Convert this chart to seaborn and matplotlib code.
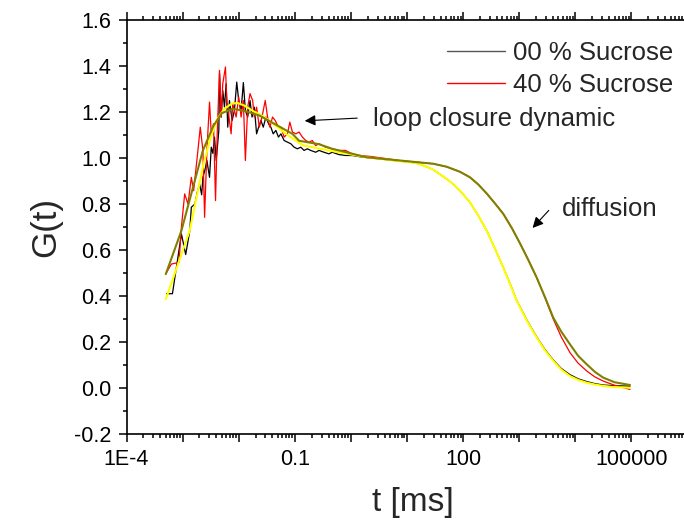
import numpy as np
import pandas as pd
import matplotlib
matplotlib.use("Agg")
import matplotlib.pyplot as plt
import seaborn as sns
from matplotlib.ticker import LogLocator, FuncFormatter, MultipleLocator, NullFormatter, FormatStrFormatter
from matplotlib.lines import Line2D

# ---------------- data (log10 of t in ms, G(t)) ----------------
logt_00_data = [-3.287, -3.181, -3.021, -2.945, -2.874, -2.844, -2.78, -2.74, -2.697, -2.66, -2.638, -2.60,
                -2.567, -2.520, -2.489, -2.46, -2.431, -2.401, -2.354, -2.342, -2.312, -2.284, -2.254,
                -2.224, -2.195, -2.165, -2.117, -2.076, -2.035, -2.000, -1.957, -1.917, -1.881, -1.840,
                -1.798, -1.762, -1.722, -1.681, -1.645, -1.603, -1.562, -1.515, -1.468, -1.426, -1.385,
                -1.338, -1.291, -1.248, -1.190, -1.131, -1.071, -1.012, -0.953, -0.894, -0.835, -0.776,
                -0.717, -0.628, -0.569, -0.480, -0.392, -0.333, -0.215, -0.097, 0.022, 0.199, 0.340,
                0.875, 1.05, 1.173, 1.32, 1.469, 1.707, 1.83, 1.945, 2.123, 2.27, 2.421, 2.57, 2.717,
                2.84, 2.955, 3.13, 3.312, 3.46, 3.607, 3.75, 3.905, 4.05, 4.204, 4.35, 4.499, 4.7, 4.975]
g_00_data = [0.41, 0.41, 0.67, 0.58, 0.68, 0.786, 0.80, 0.85, 0.887, 0.84, 0.916, 0.95,
             0.989, 0.916, 1.047, 1.02, 1.091, 0.989, 1.120, 1.367, 1.178, 1.294, 1.221,
             1.323, 1.134, 1.250, 1.163, 1.207, 1.330, 1.250, 1.207, 1.328, 1.207, 1.178,
             1.250, 1.178, 1.221, 1.105, 1.134, 1.163, 1.134, 1.178, 1.149, 1.134, 1.105,
             1.120, 1.091, 1.105, 1.076, 1.069, 1.062, 1.047, 1.040, 1.047, 1.033, 1.040,
             1.033, 1.025, 1.033, 1.025, 1.018, 1.025, 1.015, 1.011, 1.011, 1.004, 1.001,
             0.986, 0.982, 0.977, 0.965, 0.949, 0.909, 0.885, 0.858, 0.807, 0.750, 0.684, 0.605, 0.524,
             0.452, 0.381, 0.298, 0.222, 0.167, 0.122, 0.085, 0.058, 0.040, 0.028, 0.019, 0.013, 0.010, 0.008]

logt_40_data = [-3.287, -3.199, -3.064, -3.021, -2.963, -2.904, -2.844, -2.803, -2.727, -2.685, -2.638,
                -2.608, -2.567, -2.520, -2.489, -2.449, -2.413, -2.383, -2.342, -2.312, -2.284, -2.236,
                -2.213, -2.165, -2.135, -2.106, -2.046, -2.000, -1.957, -1.917, -1.881, -1.840, -1.798,
                -1.751, -1.722, -1.681, -1.633, -1.585, -1.527, -1.486, -1.444, -1.397, -1.349, -1.291,
                -1.248, -1.190, -1.131, -1.089, -1.042, -0.982, -0.924, -0.865, -0.805, -0.746, -0.687,
                -0.628, -0.569, -0.451, -0.333, -0.215, -0.097, 0.022, 0.140, 0.340,
                0.875, 1.469, 1.707, 1.945, 2.123, 2.27, 2.42, 2.57, 2.717, 2.87, 3.014, 3.16, 3.312,
                3.46, 3.607, 3.75, 3.905, 4.05, 4.204, 4.35, 4.499, 4.7, 4.975]
g_40_data = [0.502, 0.539, 0.546, 0.70, 0.844, 0.800, 0.916, 0.858, 1.033, 1.134, 1.033,
             0.742, 1.033, 1.243, 1.105, 1.149, 0.815, 1.105, 1.381, 1.178, 1.323, 1.396,
             1.250, 1.163, 1.105, 1.236, 1.178, 1.265, 1.178, 1.250, 0.989, 1.221, 1.280,
             1.250, 1.178, 1.221, 1.134, 1.178, 1.250, 1.178, 1.134, 1.178, 1.163, 1.134,
             1.134, 1.091, 1.105, 1.156, 1.113, 1.105, 1.113, 1.091, 1.076, 1.069, 1.076,
             1.054, 1.062, 1.047, 1.040, 1.033, 1.033, 1.018, 1.011, 1.007,
             0.989, 0.975, 0.962, 0.940, 0.916, 0.885, 0.846, 0.802, 0.757, 0.695, 0.629, 0.558, 0.480,
             0.392, 0.300, 0.222, 0.154, 0.108, 0.074, 0.048, 0.030, 0.012, -0.006]

logt_00_fit = [-3.300, -2.874, -2.75, -2.62, -2.50, -2.38, -2.25, -2.12, -2.017, -1.90, -1.75, -1.539,
               -1.131, -0.85, -0.333, 0.282, 0.875, 1.05, 1.173, 1.32, 1.469, 1.707, 1.83, 1.945, 2.123,
               2.27, 2.421, 2.57, 2.717, 2.84, 2.955, 3.13, 3.312, 3.46, 3.607, 3.75, 3.905, 4.05,
               4.204, 4.35, 4.499, 4.7, 4.975]
g_00_fit = [0.386, 0.684, 0.83, 0.98, 1.09, 1.17, 1.215, 1.237, 1.239, 1.228, 1.205, 1.178,
            1.100, 1.055, 1.030, 1.003, 0.986, 0.982, 0.977, 0.965, 0.949, 0.909, 0.885, 0.858, 0.807,
            0.750, 0.684, 0.605, 0.524, 0.450, 0.379, 0.295, 0.219, 0.163, 0.118, 0.080, 0.052, 0.035,
            0.023, 0.015, 0.009, 0.004, 0.001]

logt_40_fit = [-3.300, -3.021, -2.85, -2.638, -2.45, -2.30, -2.106, -1.90, -1.633, -1.30, -1.042,
               -0.924, -0.569, -0.333, 0.282, 0.875, 1.469, 1.707, 1.945, 2.123, 2.27, 2.42, 2.57,
               2.717, 2.87, 3.014, 3.16, 3.312, 3.46, 3.607, 3.75, 3.905, 4.05, 4.204, 4.35, 4.499,
               4.7, 4.975]
g_40_fit = [0.495, 0.684, 0.84, 1.033, 1.14, 1.195, 1.214, 1.205, 1.185, 1.14, 1.105,
            1.075, 1.060, 1.040, 1.003, 0.989, 0.975, 0.962, 0.940, 0.916, 0.885, 0.846, 0.802,
            0.757, 0.695, 0.629, 0.558, 0.480, 0.395, 0.306, 0.245, 0.190, 0.140, 0.103, 0.070,
            0.045, 0.025, 0.013]

legend_labels = ["00 % Sucrose", "40 % Sucrose"]
tick_text = {-4: "1E-4", -1: "0.1", 2: "100", 5: "100000"}

# ---------------- figure ----------------
sns.set_style("ticks")
plt.rcParams["font.family"] = ["Liberation Sans", "DejaVu Sans"]
plt.rcParams["axes.unicode_minus"] = False

W, H = 684, 523
fig = plt.figure(figsize=(W / 100, H / 100), dpi=100)
ax = fig.add_axes([126.5 / W, (H - 434) / H, (700 - 126.5) / W, 414 / H])

series = [
    (logt_00_data, g_00_data, "#000000", 0.9),
    (logt_40_data, g_40_data, "#ff0000", 0.9),
    (logt_00_fit, g_00_fit, "#ffff00", 1.5),
    (logt_40_fit, g_40_fit, "#808000", 1.5),
]
for lt, g, col, lw in series:
    df = pd.DataFrame({"t": 10 ** np.asarray(lt), "G": g})
    sns.lineplot(data=df, x="t", y="G", ax=ax, color=col, lw=lw, estimator=None, sort=False)

ax.set_xscale("log")
ax.set_xlim(1e-4, 10 ** 6.223)
ax.set_ylim(-0.2, 1.6)

ax.xaxis.set_major_locator(LogLocator(base=10, numticks=30))
ax.xaxis.set_minor_locator(LogLocator(base=10, subs=np.arange(2, 10), numticks=30))
ax.xaxis.set_major_formatter(FuncFormatter(lambda v, p: tick_text.get(int(round(np.log10(v))), "")))
ax.xaxis.set_minor_formatter(NullFormatter())
ax.yaxis.set_major_locator(MultipleLocator(0.2))
ax.yaxis.set_minor_locator(MultipleLocator(0.1))
ax.yaxis.set_major_formatter(FormatStrFormatter("%.1f"))

for s in ["left", "bottom", "top"]:
    ax.spines[s].set_linewidth(1.2)
    ax.spines[s].set_color("black")
ax.spines["right"].set_visible(False)

ax.tick_params(axis="both", which="both", direction="out", colors="black", width=1.1)
ax.tick_params(axis="x", which="both", top=True, labeltop=False)
ax.tick_params(which="major", length=6, labelsize=15.5, pad=5)
ax.tick_params(which="minor", length=3.2)

ax.set_xlabel("t [ms]", fontsize=24, labelpad=12)
ax.set_ylabel("G(t)", fontsize=25, labelpad=8)

handles = [Line2D([], [], color="#555555", lw=1.0), Line2D([], [], color="#ff0000", lw=1.0)]
fig.legend(handles, legend_labels, loc="upper left", bbox_to_anchor=(447 / W, 1 - 41 / H),
           frameon=False, fontsize=18.5, handlelength=2.26, handletextpad=0.31,
           labelspacing=0.32, borderpad=0, borderaxespad=0)

ax.annotate("", xy=(10 ** -0.872, 1.161), xytext=(10 ** 0.162, 1.174),
            arrowprops=dict(arrowstyle="-|>", color="black", lw=0.8, mutation_scale=16))
ax.text(10 ** 0.394, 1.170, "loop closure dynamic", fontsize=18.5, va="center", ha="left")
ax.annotate("", xy=(10 ** 3.205, 0.687), xytext=(10 ** 3.561, 0.781),
            arrowprops=dict(arrowstyle="-|>", color="black", lw=0.8, mutation_scale=16))
ax.text(10 ** 3.763, 0.780, "diffusion", fontsize=18.5, va="center", ha="left")

fig.savefig("out.png", dpi=100)
